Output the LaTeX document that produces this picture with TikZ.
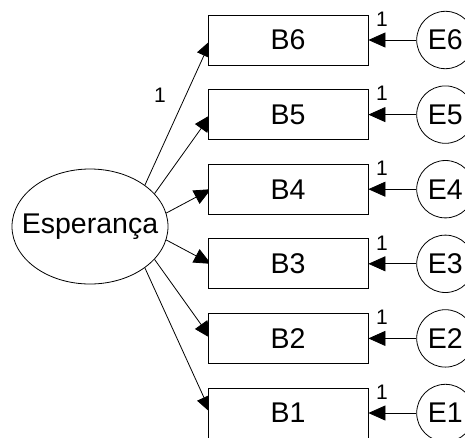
\documentclass[tikz,border=0pt]{standalone}
\usepackage{fontspec}
\setmainfont{Liberation Sans}
\usetikzlibrary{arrows.meta,shapes.geometric}
\begin{document}
\begin{tikzpicture}[x=1pt,y=-1pt,
  obs/.style={draw,fill=white,line width=0.8pt,minimum width=160pt,minimum height=50pt,inner sep=0pt,font=\fontsize{28.5}{30}\selectfont},
  err/.style={circle,draw,fill=white,line width=0.8pt,minimum size=57.4pt,inner sep=0pt,font=\fontsize{28.5}{30}\selectfont},
  lat/.style={ellipse,draw,fill=white,line width=0.8pt,minimum width=156pt,minimum height=115pt,inner sep=0pt,font=\fontsize{28.5}{30}\selectfont},
  path/.style={line width=0.8pt,-{Triangle[length=17pt,width=15pt]}},
  wt/.style={font=\fontsize{21}{22}\selectfont,inner sep=0pt}]
\clip (0,0) rectangle (465,437);
\fill[white] (0,0) rectangle (465,437);
\node[lat] (esp) at (90,226.5) {\makebox[0pt]{Esperança}};
\foreach \n/\y in {6/40,5/114.6,4/189.2,3/263.8,2/338.4,1/413}{
  \coordinate (cb\n) at (288,\y);
}
\draw[path] (esp.37) -- ([shift={(-77,0)}]cb6);
\draw[path] (esp.27) -- ([shift={(-77,0)}]cb5);
\draw[path] (esp.10) -- ([shift={(-77,0)}]cb4);
\draw[path] (esp.-10) -- ([shift={(-77,0)}]cb3);
\draw[path] (esp.-27) -- ([shift={(-77,0)}]cb2);
\draw[path] (esp.-37) -- ([shift={(-77,0)}]cb1);
\node[wt] (w0) at (160,95) {1};
\foreach \n/\y in {6/40,5/114.6,4/189.2,3/263.8,2/338.4,1/413}{
  \node[obs] (b\n) at (cb\n) {B\n};
  \node[err] (e\n) at (445.4,\y) {\makebox[0pt]{E\n}};
  \draw[path] (e\n.west) -- (b\n.east);
  \node[wt] (l\n) at (382,\y-21) {1};
}
\end{tikzpicture}
\end{document}
